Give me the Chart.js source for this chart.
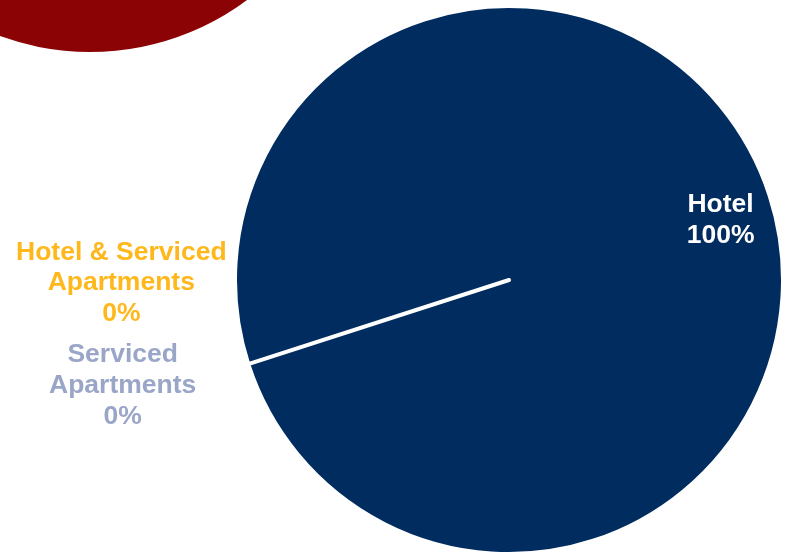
<!DOCTYPE html>
<html>
<head>
<meta charset="utf-8">
<script src="https://cdn.jsdelivr.net/npm/chart.js@4.4.1/dist/chart.umd.min.js"></script>
<style>
  html, body { margin: 0; padding: 0; background: #ffffff; }
  #wrap { position: relative; width: 795px; height: 556px; overflow: hidden; }
</style>
</head>
<body>
<div id="wrap"><canvas id="c" width="795" height="556"></canvas></div>
<script>
// ---- data ----
const categories = ['Hotel', 'Serviced Apartments', 'Hotel & Serviced Apartments'];
const shareValues = [100, 0, 0];
const sliceColors = ['#002C5F', '#9AA6C8', '#FFB81C'];
const labelColors = ['#FFFFFF', '#9AA6C8', '#FFB81C'];

const FONT = 'bold 26.5px "Liberation Sans", Arial, sans-serif';
const LINE_H = 31;

function wrapText(ctx, text, maxW) {
  const words = text.split(' ');
  const lines = [];
  let cur = '';
  words.forEach(w => {
    const t = cur ? cur + ' ' + w : w;
    if (ctx.measureText(t).width > maxW && cur) { lines.push(cur); cur = w; }
    else cur = t;
  });
  if (cur) lines.push(cur);
  return lines;
}

// decorative red circle (slide ornament, top-left)
const ornament = {
  id: 'ornament',
  beforeDraw(chart) {
    const ctx = chart.ctx;
    ctx.save();
    ctx.fillStyle = '#8B0304';
    ctx.beginPath();
    ctx.arc(90, -211, 263, 0, Math.PI * 2);
    ctx.fill();
    ctx.restore();
  }
};

// data labels
const pieLabels = {
  id: 'pieLabels',
  afterDatasetsDraw(chart) {
    const ctx = chart.ctx;
    const meta = chart.getDatasetMeta(0);
    const ds = chart.data.datasets[0];
    ctx.save();
    ctx.font = FONT;
    ctx.textAlign = 'center';
    ctx.textBaseline = 'alphabetic';
    const first = meta.data[0];
    const cx = first.x, cy = first.y, r = first.outerRadius;
    let outsideIdx = 0;
    const outsidePos = [
      { x: cx - 1.41 * r, y: cy + 0.38 * r },   // Serviced Apartments (lower)
      { x: cx - 1.415 * r, y: cy + 0.005 * r }  // Hotel & Serviced Apartments (upper)
    ];
    meta.data.forEach((arc, i) => {
      const v = ds.data[i];
      const name = chart.data.labels[i];
      ctx.fillStyle = labelColors[i];
      if (v > 0) {
        const mid = (arc.startAngle + arc.endAngle) / 2;
        const lr = r * 0.8;
        const x = arc.x + Math.cos(mid) * lr + 3;
        const y = arc.y + Math.sin(mid) * lr;
        const lines = [name, v + '%'];
        lines.forEach((ln, k) => ctx.fillText(ln, x, y + 15 + (k - (lines.length - 1) / 2) * LINE_H));
      } else {
        const p = outsidePos[outsideIdx++];
        const lines = wrapText(ctx, name, 220).concat([v + '%']);
        lines.forEach((ln, k) => ctx.fillText(ln, p.x, p.y + (k - (lines.length - 1) / 2) * 30.7 + 9));
      }
    });
    ctx.restore();
  }
};

new Chart(document.getElementById('c'), {
  type: 'pie',
  data: {
    labels: categories,
    datasets: [{
      data: shareValues,
      backgroundColor: sliceColors,
      borderColor: '#FFFFFF',
      borderWidth: 4,
      borderJoinStyle: 'round'
    }]
  },
  options: {
    responsive: false,
    animation: false,
    rotation: 252.1,
    layout: { padding: { left: 233, right: 10, top: 4, bottom: 0 } },
    plugins: {
      legend: { display: false },
      tooltip: { enabled: false }
    }
  },
  plugins: [ornament, pieLabels]
});
</script>
</body>
</html>
